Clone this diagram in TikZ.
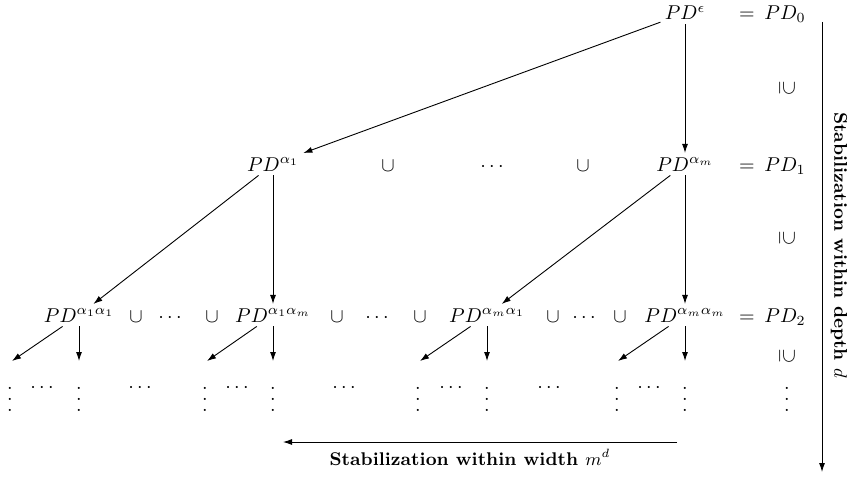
\documentclass[tikz,border=0pt]{standalone}
\usetikzlibrary{arrows.meta}

% vertical dots with the wider spacing of the layout
\newcommand{\tallvdots}{\vbox{\baselineskip5.5pt \lineskiplimit0pt \kern3pt\hbox{.}\hbox{.}\hbox{.}}}

\tikzset{
  treeArrow/.style={-{Latex[length=4.5pt,width=3pt]}, line width=0.45pt},
  setNode/.style={anchor=base, inner sep=2pt},
  stabLabel/.style={font=\fontsize{9.2}{11}\selectfont\bfseries, inner sep=0pt},
}

\begin{document}
\begin{tikzpicture}[x=0.5pt,y=-0.5pt]

% Canvas in pixels of the 854x481 layout (y grows downward)
\path (0,0) rectangle (854,481);

% Baselines of the rows
\def\rowzero{20}
\def\rowone{171}
\def\rowtwo{322}
\def\rowdots{411}  % baseline of the vertical dots
\def\rowcdots{392} % baseline of the horizontal dots
\def\leafend{361}  % where the leaf arrows stop

% Columns of the tree
\def\colA{79} \def\colB{273} \def\colC{487} \def\colD{685}
\def\coleq{747} \def\colpd{785}

% --- Row 0 ---
\node[setNode] (pdRoot) at (\colD,\rowzero) {$PD^{\epsilon}$};
\node[setNode] (eqZero) at (\coleq,\rowzero) {$=$};
\node[setNode] (pdZero) at (\colpd,\rowzero) {$PD_0$};

% --- Row 1 ---
\node[setNode] (pdA1)  at (\colB,\rowone) {$PD^{\alpha_1}$};
\node[setNode] (cupB1) at (388,\rowone) {$\cup$};
\node[setNode] (dotsB) at (492,\rowone) {$\cdots$};
\node[setNode] (cupB2) at (583,\rowone) {$\cup$};
\node[setNode] (pdAm)  at (\colD,\rowone) {$PD^{\alpha_m}$};
\node[setNode] (eqOne) at (\coleq,\rowone) {$=$};
\node[setNode] (pdOne) at (\colpd,\rowone) {$PD_1$};

% --- Row 2 ---
\node[setNode] (pdA1A1) at (\colA,\rowtwo) {$PD^{\alpha_1\alpha_1}$};
\node[setNode] (pdA1Am) at (\colB,\rowtwo) {$PD^{\alpha_1\alpha_m}$};
\node[setNode] (pdAmA1) at (\colC,\rowtwo) {$PD^{\alpha_m\alpha_1}$};
\node[setNode] (pdAmAm) at (\colD,\rowtwo) {$PD^{\alpha_m\alpha_m}$};
\node[setNode] (eqTwo)  at (\coleq,\rowtwo) {$=$};
\node[setNode] (pdTwo)  at (\colpd,\rowtwo) {$PD_2$};
\foreach \x/\s [count=\i] in {136/\cup,170/\cdots,212/\cup,337/\cup,377/\cdots,420/\cup,553/\cup,584/\cdots,620/\cup}
  \node[setNode] (sepTwo\i) at (\x,\rowtwo) {$\s$};

% --- Row 3: the dots ---
\foreach \x [count=\i] in {10,79,205,273,418,487,617,685,787}
  \node[setNode] (vdots\i) at (\x,\rowdots) {\tallvdots};
\foreach \x [count=\i] in {42,140,237,344,451,549,649}
  \node[setNode] (hdots\i) at (\x,\rowcdots) {$\cdots$};

% inclusions between the levels
\node[rotate=-90] (subZero) at (787,88)  {$\supseteq$};
\node[rotate=-90] (subOne)  at (787,238) {$\supseteq$};
\node[rotate=-90] (subTwo)  at (787,356) {$\supseteq$};

% --- Tree arrows ---
\draw[treeArrow] (pdRoot) -- (pdA1);
\draw[treeArrow] (pdRoot) -- (pdAm);
\draw[treeArrow] (pdA1) -- (pdA1A1);
\draw[treeArrow] (pdA1) -- (pdA1Am);
\draw[treeArrow] (pdAm) -- (pdAmA1);
\draw[treeArrow] (pdAm) -- (pdAmAm);

% leaf arrows: one slanted, one straight down
\foreach \n/\x/\d in {pdA1A1/\colA/12, pdA1Am/\colB/207, pdAmA1/\colC/420, pdAmAm/\colD/618} {
  \coordinate (\n-left) at (\d,\leafend);
  \coordinate (\n-down) at (\x,\leafend);
  \draw[treeArrow] (\n) -- (\n-left);
  \draw[treeArrow] (\n) -- (\n-down);
}

% --- Stabilization arrows ---
\coordinate (depthTop) at (822,22);
\coordinate (depthEnd) at (822,472);
\draw[treeArrow] (depthTop) -- (depthEnd);
\node[stabLabel, rotate=-90] (depthLabel) at (839,245) {Stabilization within depth $d$};

\coordinate (widthStart) at (677,442);
\coordinate (widthEnd)   at (283,442);
\draw[treeArrow] (widthStart) -- (widthEnd);
\node[stabLabel, anchor=base] (widthLabel) at (470,465) {Stabilization within width $m^d$};

\end{tikzpicture}
\end{document}
